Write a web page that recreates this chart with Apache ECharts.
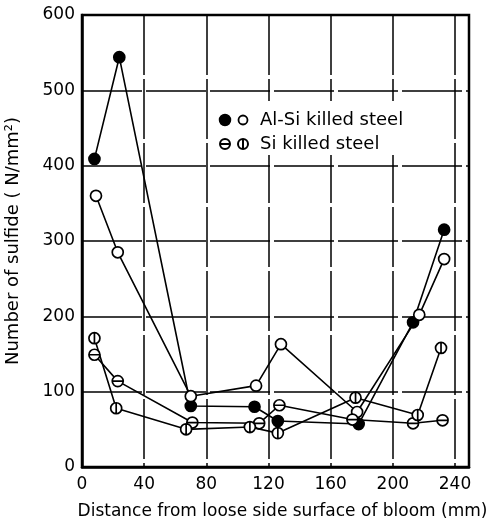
<!DOCTYPE html>
<html><head><meta charset="utf-8">
<script src="https://cdn.jsdelivr.net/npm/echarts@6/dist/echarts.min.js"></script>
<style>html,body{margin:0;padding:0;background:#fff}#c{width:489px;height:525px}</style>
</head><body><div id="c"></div>
<script>
// Data
var alSiFilledX = [8, 24, 70, 111, 126, 178, 213, 233];
var alSiFilledY = [409, 544, 81, 80, 61, 57, 192, 315];
var alSiOpenX = [9, 23, 70, 112, 128, 177, 217, 233];
var alSiOpenY = [360, 285, 94, 108, 163, 73, 202, 276];
var siThetaX = [8, 23, 71, 114, 127, 174, 213, 232];
var siThetaY = [149, 114, 59, 58, 82, 63, 58, 62];
var siPhiX = [8, 22, 67, 108, 126, 176, 216, 231];
var siPhiY = [171, 78, 50, 53, 45, 92, 69, 158];
var xTicks = [0, 40, 80, 120, 160, 200, 240];
var yTicks = [0, 100, 200, 300, 400, 500, 600];
var legendLabels = ['Al-Si killed steel', 'Si killed steel'];

function pairs(xs, ys) { return xs.map(function (x, i) { return [x, ys[i]]; }); }

var FONT = 'DejaVu Sans';
var thetaPath = 'path://M0,10 A10,10 0 1,1 20,10 A10,10 0 1,1 0,10 Z M0,10 L20,10';
var phiPath = 'path://M0,10 A10,10 0 1,1 20,10 A10,10 0 1,1 0,10 Z M10,0 L10,20';

function ser(name, data, symbol, fill, size) {
  return {
    name: name, type: 'line', data: data, symbol: symbol, symbolSize: size,
    showSymbol: true, animation: false,
    lineStyle: { color: '#000', width: 1.6 },
    itemStyle: { color: fill, borderColor: '#000', borderWidth: 1.7 },
    z: 3
  };
}

var chart = echarts.init(document.getElementById('c'));
chart.setOption({
  backgroundColor: '#fff',
  animation: false,
  grid: { left: 82, right: 20, top: 15, bottom: 58, containLabel: false, outerBoundsMode: 'none',
    show: true, borderColor: '#000', borderWidth: 2.5, backgroundColor: 'transparent' },
  xAxis: {
    type: 'value', min: 0, max: 249, interval: 40,
    name: 'Distance from loose side surface of bloom (mm)', nameLocation: 'middle', nameGap: 36,
    nameTextStyle: { fontFamily: FONT, fontSize: 17, color: '#000', padding: [0, 0, 0, 14] },
    axisLine: { show: true, lineStyle: { color: '#000', width: 2.5 } },
    axisTick: { show: false },
    axisLabel: { fontFamily: FONT, fontSize: 17, color: '#000', margin: 9, showMaxLabel: false,
      formatter: function (v) { return xTicks.indexOf(v) >= 0 ? String(v) : ''; } },
    splitLine: { show: true, lineStyle: { color: '#000', width: 1.5, type: [60, 4] } }
  },
  yAxis: {
    type: 'value', min: 0, max: 600, interval: 100,
    name: 'Number of sulfide ( N/mm\u00b2)', nameLocation: 'middle', nameGap: 60, nameRotate: 90,
    nameTextStyle: { fontFamily: FONT, fontSize: 18, color: '#000' },
    axisLine: { show: true, lineStyle: { color: '#000', width: 2.5 } },
    axisTick: { show: false },
    axisLabel: { fontFamily: FONT, fontSize: 17, color: '#000', margin: 7,
      formatter: function (v) { return yTicks.indexOf(v) >= 0 ? String(v) : ''; } },
    splitLine: { show: true, lineStyle: { color: '#000', width: 1.5, type: [60, 4] } }
  },
  graphic: [
    { type: 'rect', shape: { x: 213, y: 101, width: 238, height: 54 }, style: { fill: '#fff' }, z: 2 },
    { type: 'circle', shape: { cx: 225, cy: 120, r: 5.5 }, style: { fill: '#000', stroke: '#000', lineWidth: 1.5 }, z: 4 },
    { type: 'circle', shape: { cx: 243, cy: 120, r: 4.5 }, style: { fill: '#fff', stroke: '#000', lineWidth: 1.8 }, z: 4 },
    { type: 'text', x: 260, y: 120, style: { text: legendLabels[0], fontFamily: FONT, fontSize: 18, fill: '#000', textVerticalAlign: 'middle', verticalAlign: 'middle' }, z: 4 },
    { type: 'circle', shape: { cx: 225, cy: 144, r: 5 }, style: { fill: '#fff', stroke: '#000', lineWidth: 2 }, z: 4 },
    { type: 'line', shape: { x1: 220, y1: 144, x2: 230, y2: 144 }, style: { stroke: '#000', lineWidth: 2 }, z: 4 },
    { type: 'circle', shape: { cx: 243, cy: 144, r: 5 }, style: { fill: '#fff', stroke: '#000', lineWidth: 2 }, z: 4 },
    { type: 'line', shape: { x1: 243, y1: 139, x2: 243, y2: 149 }, style: { stroke: '#000', lineWidth: 2 }, z: 4 },
    { type: 'text', x: 260, y: 144, style: { text: legendLabels[1], fontFamily: FONT, fontSize: 18, fill: '#000', textVerticalAlign: 'middle', verticalAlign: 'middle' }, z: 4 }
  ],
  series: [
    ser('Al-Si filled', pairs(alSiFilledX, alSiFilledY), 'circle', '#000', 11),
    ser('Al-Si open', pairs(alSiOpenX, alSiOpenY), 'circle', '#fff', 11),
    ser('Si theta', pairs(siThetaX, siThetaY), thetaPath, '#fff', 11),
    ser('Si phi', pairs(siPhiX, siPhiY), phiPath, '#fff', 11)
  ]
});
</script>
</body></html>
